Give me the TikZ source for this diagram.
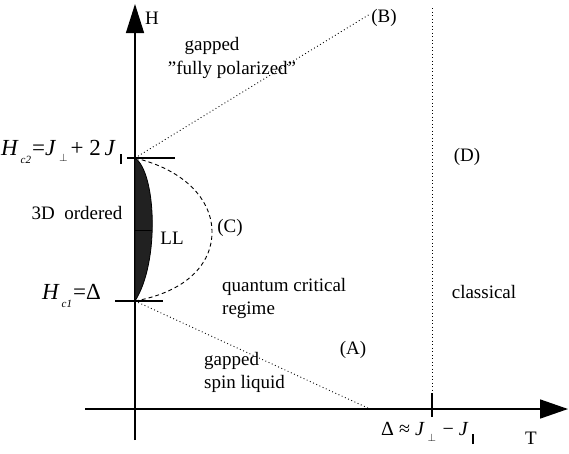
\documentclass[tikz,border=0pt]{standalone}
\usepackage{fontspec}
\setmainfont{Liberation Serif}[Ligatures=NoCommon]
\usetikzlibrary{arrows.meta}
\newcommand{\subl}[1]{\hspace{2pt}\raisebox{-8pt}{\fontsize{11}{11}\selectfont\itshape #1}\hspace{1pt}}
\newcommand{\parbar}{\hspace{4pt}\raisebox{-9pt}{\rule{2pt}{10pt}}}
\newcommand{\perpsub}{\hspace{3pt}\raisebox{-6pt}{\fontsize{11}{11}\selectfont$\perp$}\hspace{3pt}}
\begin{document}
\begin{tikzpicture}[x=1pt,y=-1pt,
  lbl/.style={inner sep=0pt,font=\fontsize{19}{23}\selectfont},
  axis/.style={line width=1.6pt},
  tick/.style={line width=2.4pt},
  dotl/.style={line width=0.9pt,dash pattern=on 0.9pt off 2.6pt},
  dashl/.style={line width=0.9pt,dash pattern=on 4pt off 3pt}]
\useasboundingbox (0,0) rectangle (569,453);
% axes
\coordinate (vb) at (135,440);
\coordinate (vt) at (135,4);
\coordinate (hl) at (85,409);
\coordinate (hr) at (568,409);
\draw[line width=1.3pt,-{Triangle[length=29pt,width=18pt]}] (vb) -- (vt);
\draw[axis,-{Triangle[length=28pt,width=19pt]}] (hl) -- (hr);
% key points
\coordinate (c2) at (135,158);
\coordinate (c1) at (135,301);
\coordinate (mid) at (135,230);
\coordinate (midr) at (152,230);
\coordinate (c2l) at (127,158);
\coordinate (c2r) at (175,158);
\coordinate (c1l) at (115,301);
\coordinate (c1r) at (163,301);
\coordinate (Bend) at (370,14);
\coordinate (Aend) at (370,409);
\coordinate (dt) at (432,8);
\coordinate (db) at (432,409);
\coordinate (tt) at (432,393);
\coordinate (tb) at (432,417);
% lens
\filldraw[fill=black!87,draw=black,line width=0.8pt] (c2) .. controls (156,172) and (160,262) .. (c1) -- cycle;
\draw[line width=1pt] (mid) -- (midr);
% ticks
\draw[tick] (c2l) -- (c2r);
\draw[tick] (c1l) -- (c1r);
\draw[tick] (tt) -- (tb);
% dashed arc
\draw[dashl] (c2) .. controls (185,170) and (212,200) .. (212,232) .. controls (212,265) and (185,292) .. (c1);
% dotted lines
\draw[dotl] (c2) -- (Bend);
\draw[dotl] (c1) -- (Aend);
\draw[dotl] (dt) -- (db);
% labels
\node[lbl] (H) at (152,18) {H};
\node[lbl] (T) at (531,438) {T};
\node[lbl] (g1) at (212,46) {gapped};
\node[lbl] (fp) at (232,70) {\symbol{34}fully polarized\symbol{34}};
\node[lbl] (B) at (384,18) {(B)};
\node[lbl] (D) at (467,157) {(D)};
\node[lbl] (ord) at (77,213) {3D\ \ ordered};
\node[lbl] (LL) at (172,238) {LL};
\node[lbl] (C) at (230,228) {(C)};
\node[lbl] (cl) at (484,292) {classical};
\node[lbl,anchor=west,align=left] (qc) at (222,298) {quantum critical\\regime};
\node[lbl,anchor=west,align=left] (gs) at (204,372) {gapped\\spin liquid};
\node[lbl] (A) at (353,350) {(A)};
\node[lbl,anchor=east,font=\fontsize{23}{23}\selectfont] (hc2) at (122,152) {\textit{H}\subl{c2}=\textit{J}\perpsub+ 2\,\textit{J}\parbar};
\node[lbl,anchor=east,font=\fontsize{23}{23}\selectfont] (hc1) at (101,296) {\textit{H}\subl{c1}=Δ};
\node[lbl,anchor=west,font=\fontsize{20}{20}\selectfont] (dl) at (381,433) {Δ ≈ \textit{J}\perpsub\,− \textit{J}\parbar};
\end{tikzpicture}
\end{document}
